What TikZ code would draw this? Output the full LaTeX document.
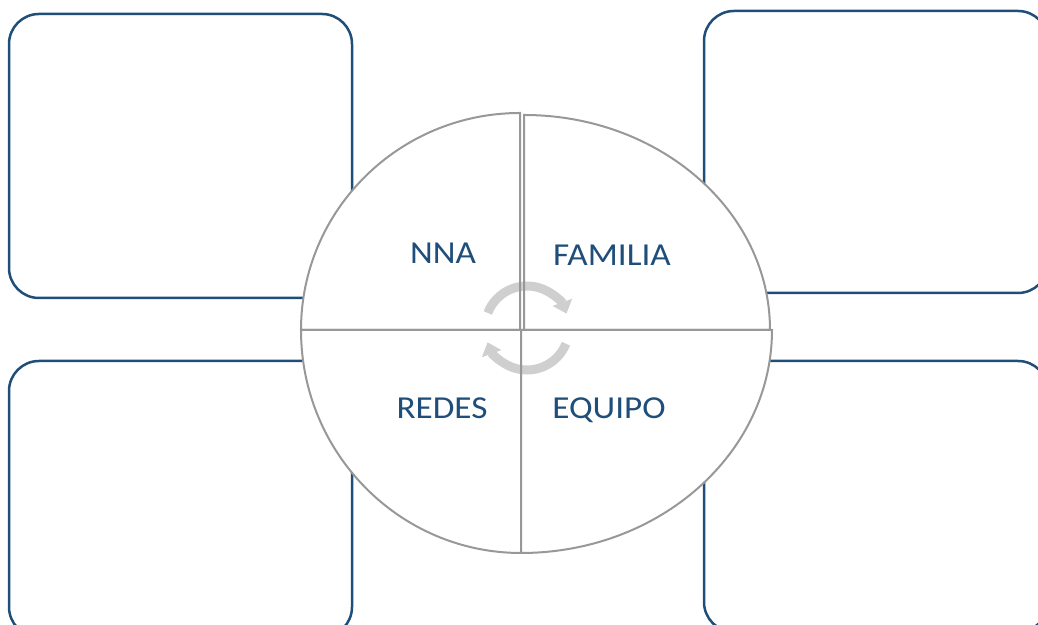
\documentclass[tikz,border=0pt]{standalone}
\usepackage{fontspec}
\setmainfont{Carlito}
\usepackage{tikz}
\usetikzlibrary{arrows.meta}
\usepackage{xcolor}
\definecolor{boxblue}{RGB}{31,78,121}
\definecolor{piegray}{RGB}{152,152,152}
\definecolor{cyclegray}{RGB}{150,150,150}

\begin{document}
\begin{tikzpicture}[
  x=0.5pt, y=0.5pt,
  %every node/.style={draw},
  ]
  \tikzstyle{card}=[draw=boxblue,line width=1.25pt,rounded corners=15pt,fill=white]
  \tikzstyle{quarter}=[draw=piegray,line width=1pt,fill=white]
  \tikzstyle{cycle arrow}=[draw=cyclegray,line width=4.5pt,-{Triangle[width=10pt,length=6pt]}]
  \tikzstyle{sector label}=[text=boxblue,font=\fontsize{16}{19}\selectfont,xscale=1.1,anchor=base,inner sep=0]
  \useasboundingbox (0,0) rectangle (1038,625);
  % four boxes
  \draw[card] (9,327) rectangle (352,611);
  \draw[card] (704,332) rectangle (1048,614);
  \draw[card] (9,-12) rectangle (352,264);
  \draw[card] (704,-7) rectangle (1048,264);
  % pie quarters
  \coordinate (tl) at (520,295);
  \coordinate (tr) at (524,295);
  \coordinate (bl) at (521,295);
  \coordinate (br) at (521,295);
  \draw[quarter] (tl) -- ++(-219,0) arc[start angle=180,end angle=90,x radius=219,y radius=217] -- cycle;
  \draw[quarter] (tr) -- ++(0,215) arc[start angle=90,end angle=0,x radius=246,y radius=215] -- cycle;
  \draw[quarter] (bl) -- ++(-220,0) arc[start angle=180,end angle=270,x radius=220,y radius=223] -- cycle;
  \draw[quarter] (br) -- ++(251,0) arc[start angle=0,end angle=-90,x radius=251,y radius=223] -- cycle;
  % cycle in the middle
  \coordinate (hub) at (527,297);
  \begin{scope}[transparency group,opacity=0.45]
    \draw[cycle arrow] ([shift={(159:42)}]hub) arc[start angle=159,end angle=20,radius=42];
    \draw[cycle arrow] ([shift={(-22:42)}]hub) arc[start angle=-22,end angle=-160,radius=42];
  \end{scope}
  \node[sector label] (nna) at (443,361) {NNA};
  \node[sector label] (familia) at (612,359) {FAMILIA};
  \node[sector label] (redes) at (442,206) {REDES};
  \node[sector label] (equipo) at (609,206) {EQUIPO};
\end{tikzpicture}
\end{document}
